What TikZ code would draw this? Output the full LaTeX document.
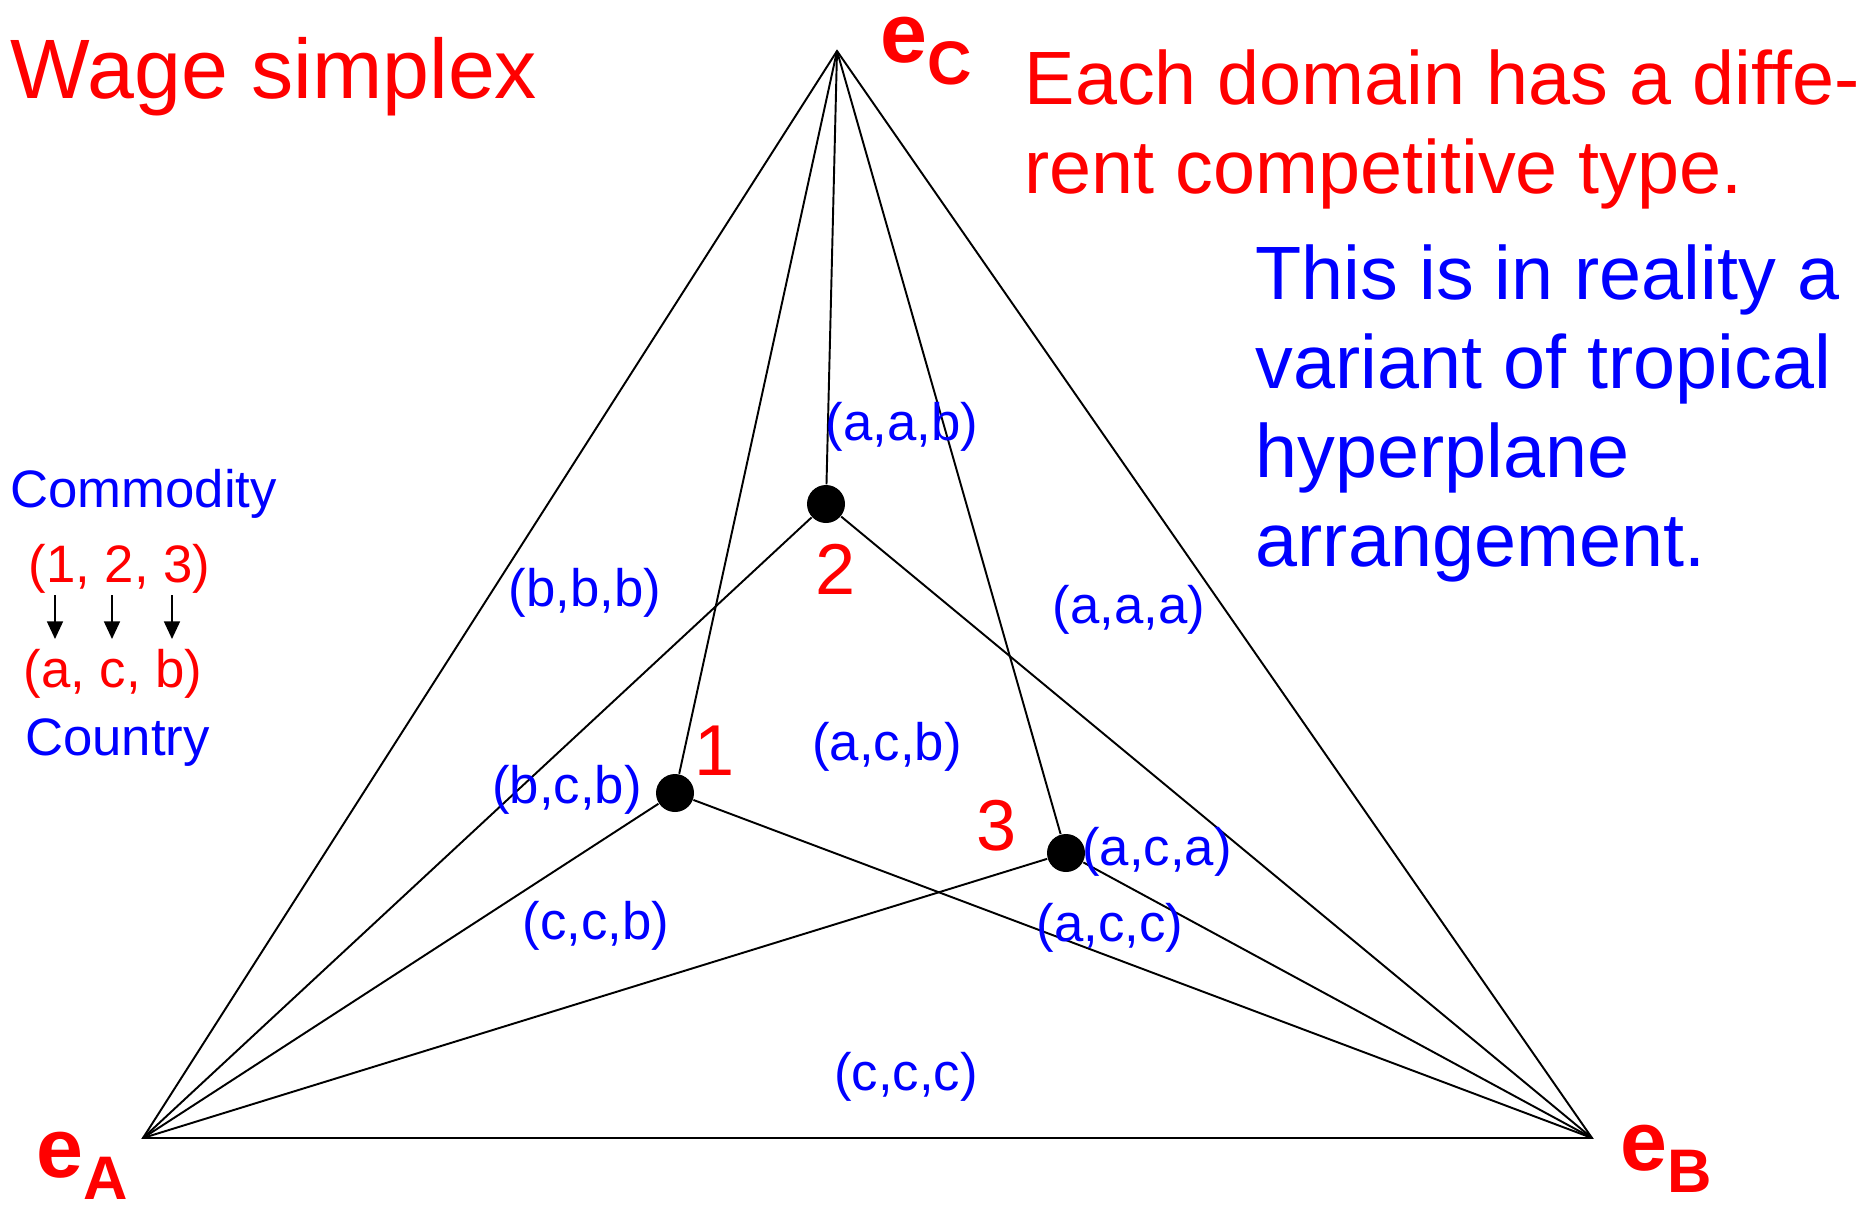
\documentclass[tikz,border=0pt]{standalone}
\usepackage{fontspec}
\setmainfont{Liberation Sans}
\usetikzlibrary{arrows.meta}
\tikzset{
  edge/.style   = {line width=0.55pt, black},
  dot/.style    = {circle, fill=black, inner sep=0pt, minimum size=0.38cm},
  region/.style = {text=blue, font=\fontsize{15}{18}\selectfont, inner sep=0pt},
  tuple/.style  = {text=red, font=\fontsize{15}{18}\selectfont, inner sep=0pt, anchor=base west},
  ptnum/.style  = {text=red, font=\fontsize{20.5}{24}\selectfont, inner sep=0pt, anchor=base},
  vlab/.style   = {text=red, font=\fontsize{24}{28}\selectfont\bfseries, inner sep=0pt, anchor=base west},
  note/.style   = {font=\fontsize{21.5}{25.3}\selectfont, align=left, inner sep=0pt, anchor=base west},
  arr/.style    = {-{Triangle[length=5pt, width=4.5pt]}, line width=0.6pt}
}
\newcommand{\vsub}[1]{\raisebox{-6.3pt}{\fontsize{17.5}{20}\selectfont\bfseries #1}}

\begin{document}
\begin{tikzpicture}
\useasboundingbox (0,0) rectangle (18.6,12.08);

%% corners of the simplex
\coordinate (eA) at (1.43,0.70);
\coordinate (eB) at (15.92,0.70);
\coordinate (eC) at (8.37,11.57);

%% the three points
\node[dot] (p1) at (6.75,4.15) {};
\node[dot] (p2) at (8.26,7.04) {};
\node[dot] (p3) at (10.66,3.55) {};

%% triangle and the lines to the points
\draw[edge] (eA) -- (eB) -- (eC) -- cycle;
\foreach \v in {eA,eB,eC}
  \foreach \p in {p1,p2,p3}
    \draw[edge] (\v) -- (\p);

%% corner labels
\node[vlab] (lC) at (8.80,11.46) {e\vsub{C}};
\node[vlab] (lA) at (0.36,0.31) {e\vsub{A}};
\node[vlab] (lB) at (16.20,0.38) {e\vsub{B}};

%% point numbers
\node[ptnum] (n1) at (7.15,4.33) {1};
\node[ptnum] (n2) at (8.36,6.14) {2};
\node[ptnum] (n3) at (9.97,3.58) {3};

%% domain types
\node[region] (aab) at (9.02,7.81) {(a,a,b)};
\node[region] (bbb) at (5.85,6.15) {(b,b,b)};
\node[region] (aaa) at (11.29,5.98) {(a,a,a)};
\node[region] (acb) at (8.87,4.61) {(a,c,b)};
\node[region] (bcb) at (5.67,4.18) {(b,c,b)};
\node[region] (aca) at (11.57,3.56) {(a,c,a)};
\node[region] (ccb) at (5.96,2.82) {(c,c,b)};
\node[region] (acc) at (11.10,2.80) {(a,c,c)};
\node[region] (ccc) at (9.06,1.31) {(c,c,c)};

%% legend on the left
\node[region, anchor=base west] (comm) at (0.095,7.01) {Commodity};
\node[tuple] (top) at (0.28,6.26) {(1, 2, 3)};
\node[tuple] (bot) at (0.23,5.21) {(a, c, b)};
\node[region, anchor=base west] (ctry) at (0.245,4.53) {Country};
\foreach \i/\x in {1/0.55, 2/1.12, 3/1.72} {
  \coordinate (u\i) at (\x,6.13);
  \coordinate (d\i) at (\x,5.69);
  \draw[arr] (u\i) -- (d\i);
}

%% texts (base = last line)
\node[note, text=red, font=\fontsize{24}{28}\selectfont] (wage) at (0.10,11.10) {Wage simplex};
\node[note, text=red] (each) at (10.24,10.15)
      {Each domain has a diffe-\\rent competitive type.};
\node[note, text=blue] (trop) at (12.55,6.42)
      {This is in reality a\\variant of tropical\\hyperplane\\arrangement.};

\end{tikzpicture}
\end{document}
